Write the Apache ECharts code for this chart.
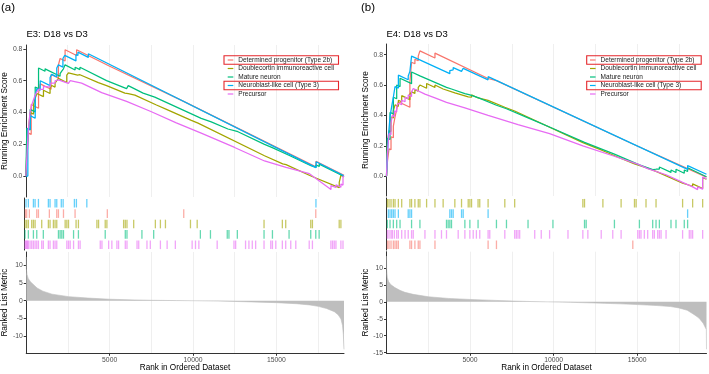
<!DOCTYPE html>
<html>
<head>
<meta charset="utf-8">
<script src="https://cdn.jsdelivr.net/npm/echarts@6/dist/echarts.min.js"></script>
<style>
  html, body { margin: 0; padding: 0; background: #fff; }
  #chart { width: 709px; height: 374px; }
</style>
</head>
<body>
<div id="chart"></div>
<script>
const setNames = ['Determined progenitor (Type 2b)', 'Doublecortin immunoreactive cell', 'Mature neuron', 'Neuroblast-like cell (Type 3)', 'Precursor'];
const setColors = ['#F8766D', '#A3A500', '#00BF7D', '#00B0F6', '#E76BF3'];
const panelLabels = ['(a)', '(b)'];
const panelTitles = ['E3: D18 vs D3', 'E4: D18 vs D3'];
const rankMax = [19050, 19150];
const rankTicks = [5000, 10000, 15000];
const esTicks = [0, 0.2, 0.4, 0.6, 0.8];
const metricTicksE3 = [-10, -5, 0, 5, 10];
const metricTicksE4 = [-15, -10, -5, 0, 5, 10];

// running enrichment score, E3 panel: [rank, score]
const esE3Determined = [[0,0],[80,0],[80,0.14],[160,0.136],[160,0.27],[320,0.262],[320,0.45],[760,0.427],[760,0.52],[860,0.515],[860,0.58],[1510,0.546],[1510,0.64],[1950,0.617],[1950,0.70],[2050,0.695],[2050,0.74],[2350,0.724],[2350,0.795],[3040,0.759],[3040,0.795],[4960,0.694],[4960,0.706],[9510,0.467],[9510,0.472],[17370,0.058],[17370,0.092],[19050,0.004]];
const esE3Doublecortin = [[0,0],[60,0],[60,0.16],[160,0.155],[160,0.30],[260,0.295],[260,0.40],[460,0.39],[460,0.45],[560,0.445],[560,0.49],[660,0.485],[660,0.52],[1055,0.50],[1055,0.54],[1450,0.52],[1450,0.555],[1550,0.55],[1550,0.57],[1750,0.56],[1750,0.585],[1850,0.58],[1850,0.60],[1950,0.595],[1950,0.615],[2450,0.589],[2450,0.635],[2550,0.63],[2550,0.65],[2650,0.645],[2650,0.66],[3100,0.636],[3100,0.645],[3240,0.638],[3240,0.646],[4340,0.588],[4340,0.595],[4835,0.569],[4835,0.58],[5930,0.522],[5930,0.53],[6130,0.519],[6130,0.53],[6530,0.509],[6530,0.515],[7820,0.447],[7820,0.452],[8420,0.42],[8420,0.428],[9910,0.35],[9910,0.354],[10310,0.333],[10310,0.337],[14290,0.128],[14290,0.134],[15380,0.077],[15380,0.083],[15580,0.072],[15580,0.078],[17070,0.0],[17070,0.008],[17170,0.003],[17170,0.011],[18765,-0.073],[18765,-0.04],[18865,-0.045],[18865,0.005],[19050,-0.005]];
const esE3Mature = [[0,0],[60,0],[60,0.30],[260,0.29],[260,0.42],[560,0.404],[560,0.56],[760,0.55],[760,0.68],[1150,0.66],[1150,0.675],[2050,0.628],[2050,0.645],[2150,0.64],[2150,0.66],[2250,0.655],[2250,0.675],[2350,0.67],[2350,0.70],[2950,0.668],[2950,0.685],[3240,0.67],[3240,0.685],[4835,0.601],[4835,0.613],[6030,0.55],[6030,0.562],[6130,0.557],[6130,0.569],[7020,0.522],[7020,0.534],[7720,0.497],[7720,0.509],[10500,0.363],[10500,0.373],[11100,0.341],[11100,0.349],[12100,0.296],[12100,0.303],[12200,0.298],[12200,0.305],[12700,0.279],[12700,0.283],[14290,0.199],[14290,0.203],[14790,0.177],[14790,0.181],[15780,0.129],[15780,0.133],[17070,0.065],[17070,0.07],[17370,0.054],[17370,0.07],[17570,0.06],[17570,0.075],[19050,-0.003]];
const esE3Neuroblast = [[0,0],[120,0],[120,0.30],[260,0.293],[260,0.38],[560,0.364],[560,0.50],[660,0.495],[660,0.55],[860,0.54],[860,0.60],[1450,0.569],[1450,0.62],[1550,0.615],[1550,0.64],[1850,0.624],[1850,0.68],[1950,0.675],[1950,0.70],[2220,0.686],[2220,0.74],[2330,0.734],[2330,0.76],[3000,0.725],[3000,0.765],[3120,0.759],[3120,0.78],[3740,0.747],[3740,0.77],[17380,0.053],[17380,0.09],[19050,0.002]];
const esE3Precursor = [[0,0],[60,0],[60,0.12],[110,0.118],[110,0.22],[160,0.218],[160,0.30],[210,0.298],[210,0.36],[260,0.357],[260,0.41],[360,0.405],[360,0.45],[460,0.445],[460,0.48],[560,0.475],[560,0.51],[660,0.505],[660,0.53],[760,0.525],[760,0.545],[860,0.54],[860,0.555],[1055,0.545],[1055,0.565],[1150,0.56],[1150,0.575],[1450,0.56],[1450,0.585],[1550,0.58],[1550,0.595],[1750,0.585],[1750,0.60],[1850,0.595],[1850,0.61],[1950,0.605],[1950,0.615],[2550,0.583],[2550,0.592],[2650,0.587],[2650,0.60],[2750,0.595],[2750,0.602],[3340,0.585],[4540,0.525],[6030,0.47],[7520,0.405],[9010,0.335],[10500,0.27],[12500,0.18],[14290,0.095],[15580,0.055],[16980,0.015],[18270,-0.085],[18270,-0.06],[18570,-0.072],[18570,-0.055],[18865,-0.07],[18865,-0.05],[18990,-0.057],[18990,0.0],[19050,-0.003]];

// running enrichment score, E4 panel
const esE4Determined = [[0,0],[60,0],[60,0.10],[150,0.095],[150,0.18],[270,0.174],[270,0.26],[410,0.253],[410,0.33],[510,0.325],[510,0.39],[610,0.385],[610,0.44],[710,0.435],[710,0.49],[1400,0.454],[1400,0.62],[1500,0.615],[1500,0.75],[1700,0.74],[1700,0.77],[1900,0.76],[1900,0.79],[2000,0.785],[2000,0.825],[2900,0.778],[2900,0.81],[6080,0.643],[6080,0.655],[6580,0.629],[6580,0.64],[14740,0.212],[14740,0.225],[19150,-0.006]];
const esE4Doublecortin = [[0,0],[50,0],[50,0.2],[150,0.195],[150,0.30],[270,0.294],[270,0.39],[410,0.383],[410,0.43],[510,0.425],[510,0.47],[710,0.46],[710,0.50],[910,0.49],[910,0.53],[1400,0.504],[1400,0.54],[1500,0.535],[1500,0.555],[1700,0.545],[1700,0.57],[1900,0.56],[1900,0.585],[2000,0.58],[2000,0.60],[2400,0.579],[2400,0.61],[2900,0.584],[2900,0.60],[3390,0.574],[3390,0.585],[4090,0.548],[4090,0.556],[4490,0.535],[4490,0.543],[4890,0.522],[4890,0.53],[5090,0.52],[5090,0.535],[5480,0.515],[5480,0.523],[5580,0.518],[5580,0.525],[6080,0.499],[6080,0.506],[7080,0.454],[7080,0.46],[7670,0.429],[7670,0.435],[11750,0.221],[11750,0.226],[11850,0.221],[11850,0.226],[12950,0.168],[12950,0.174],[14040,0.117],[14040,0.123],[14840,0.081],[14840,0.087],[14940,0.082],[14940,0.088],[15530,0.057],[15530,0.063],[16130,0.032],[16130,0.038],[17720,-0.045],[17720,-0.035],[18320,-0.066],[18320,-0.05],[18920,-0.081],[18920,-0.01],[19150,-0.02]];
const esE4Mature = [[0,0],[50,0],[50,0.25],[210,0.242],[210,0.42],[410,0.41],[410,0.52],[610,0.51],[610,0.60],[810,0.59],[810,0.645],[1500,0.609],[1500,0.686],[2000,0.66],[2000,0.668],[3590,0.585],[3590,0.59],[3890,0.574],[3890,0.585],[4690,0.543],[4690,0.551],[4990,0.535],[4990,0.543],[5480,0.517],[5480,0.525],[6580,0.467],[6580,0.475],[7180,0.444],[7180,0.452],[8470,0.384],[8470,0.392],[9960,0.314],[9960,0.322],[11850,0.223],[11850,0.231],[11950,0.226],[11950,0.234],[13640,0.145],[13640,0.153],[15135,0.075],[15135,0.086],[15930,0.044],[15930,0.056],[16130,0.046],[16130,0.058],[16330,0.047],[16330,0.061],[17025,0.025],[17025,0.041],[17325,0.025],[17325,0.046],[17820,0.02],[17820,0.041],[18020,0.031],[18020,0.056],[19150,-0.003]];
const esE4Neuroblast = [[0,0],[110,0],[110,0.26],[210,0.255],[210,0.39],[310,0.385],[310,0.46],[410,0.455],[410,0.52],[510,0.515],[510,0.59],[710,0.58],[710,0.665],[1300,0.635],[1300,0.66],[1400,0.655],[1400,0.69],[1500,0.685],[1500,0.79],[3790,0.675],[3790,0.695],[3890,0.69],[3890,0.705],[3990,0.70],[3990,0.715],[4490,0.69],[4490,0.70],[4590,0.695],[4590,0.71],[6080,0.634],[6080,0.655],[18020,0.045],[18020,0.07],[19150,0.013]];
const esE4Precursor = [[0,0],[50,0],[50,0.15],[150,0.145],[150,0.28],[270,0.274],[270,0.35],[350,0.346],[350,0.40],[470,0.394],[470,0.43],[610,0.423],[610,0.46],[710,0.455],[710,0.48],[910,0.47],[910,0.50],[1110,0.49],[1110,0.52],[1300,0.51],[1300,0.535],[1500,0.525],[1500,0.555],[1600,0.55],[1600,0.577],[2300,0.54],[2300,0.547],[2900,0.516],[2900,0.522],[3590,0.486],[4690,0.45],[6080,0.40],[7870,0.34],[9760,0.28],[11750,0.2],[13540,0.135],[15035,0.08],[15630,0.05],[16730,0.01],[17720,-0.04],[18320,-0.07],[18620,-0.088],[18620,-0.07],[18920,-0.085],[18920,-0.005],[19150,-0.017]];

// gene-set hit positions (rank)
const hitsE3Determined = [80, 160, 320, 760, 860, 1510, 1950, 2050, 2350, 3040, 4960, 9510, 17370];
const hitsE3Doublecortin = [60, 160, 260, 460, 560, 660, 1055, 1450, 1550, 1750, 1850, 1950, 2450, 2550, 2650, 3100, 3240, 4340, 4440, 4835, 4935, 5930, 6030, 6130, 6530, 7820, 8120, 8420, 9910, 10310, 14290, 15380, 15580, 17070, 17170, 18765, 18865];
const hitsE3Mature = [60, 260, 560, 760, 1150, 2050, 2150, 2250, 2350, 2950, 3240, 4835, 6030, 6130, 7020, 7720, 10500, 11100, 12100, 12200, 12700, 14290, 14790, 15780, 17070, 17370, 17570];
const hitsE3Neuroblast = [120, 260, 560, 660, 860, 1450, 1550, 1850, 1950, 2220, 2330, 3000, 3120, 3740, 17380];
const hitsE3Precursor = [60, 110, 160, 210, 260, 360, 460, 560, 660, 760, 860, 1055, 1150, 1450, 1550, 1750, 1850, 1950, 2550, 2650, 2750, 2950, 3240, 3340, 4540, 4640, 5040, 5230, 5530, 5630, 6030, 6130, 6730, 6830, 7320, 7520, 8120, 8520, 9010, 10010, 10210, 10410, 11500, 12500, 12600, 13190, 13390, 13590, 13790, 14290, 14690, 14790, 14990, 15380, 15580, 15880, 16180, 16980, 17170, 18270, 18370, 18470, 18570, 18865, 18990];
const hitsE4Determined = [60, 150, 270, 410, 510, 610, 710, 1400, 1500, 1700, 1900, 2000, 2900, 6080, 6580, 14740];
const hitsE4Doublecortin = [50, 150, 270, 410, 510, 710, 910, 1400, 1500, 1700, 1900, 2000, 2400, 2900, 3390, 4090, 4490, 4890, 4990, 5090, 5480, 5580, 6080, 7080, 7670, 11750, 11850, 12950, 14040, 14840, 14940, 15530, 16130, 17720, 18320, 18920];
const hitsE4Mature = [50, 210, 410, 610, 810, 1500, 2000, 3590, 3690, 3790, 3890, 4690, 4990, 5480, 6580, 7180, 8470, 9960, 11850, 11950, 13640, 15135, 15930, 16130, 16330, 17025, 17325, 17820, 18020];
const hitsE4Neuroblast = [110, 210, 310, 410, 510, 710, 1300, 1400, 1500, 3790, 3890, 3990, 4490, 4590, 6080, 18020];
const hitsE4Precursor = [50, 150, 270, 350, 470, 610, 710, 910, 1110, 1300, 1500, 1600, 2300, 2900, 3290, 3590, 4290, 4690, 4990, 5190, 5380, 5580, 6080, 6180, 7080, 7670, 7770, 7870, 7970, 8870, 9260, 9760, 10860, 11750, 12050, 12850, 13540, 14040, 15035, 15135, 15230, 15430, 15630, 15930, 16030, 16230, 16330, 16430, 16730, 17720, 18120, 18220, 18320, 18920];

// rug row order, top to bottom (index into setNames)
const rugRowsE3 = [3, 0, 1, 2, 4];
const rugRowsE4 = [1, 3, 2, 4, 0];

// ranked list metric: [rank, metric]
const metricE3 = [[1,12.4],[8,9.0],[50,7.4],[120,6.3],[250,5.4],[400,4.7],[650,3.6],[1000,2.7],[1550,1.85],[2550,1.15],[3700,0.75],[5000,0.42],[6500,0.22],[7500,0.12],[9000,0.04],[10000,0.0],[11500,-0.1],[13000,-0.27],[15000,-0.55],[16200,-0.85],[17000,-1.2],[17500,-1.6],[18000,-2.2],[18470,-3.1],[18700,-4.0],[18870,-5.2],[18960,-7],[19010,-9.5],[19050,-13.8]];
const metricE4 = [[1,13.5],[8,9.5],[50,7.2],[120,6.0],[250,5.1],[500,4.2],[800,3.4],[1100,2.8],[1600,2.2],[2500,1.5],[3700,1.0],[5000,0.7],[6500,0.42],[7600,0.22],[8700,0.08],[9600,0.0],[11000,-0.15],[12500,-0.35],[14000,-0.6],[15000,-0.8],[16200,-1.1],[17000,-1.4],[17500,-1.8],[18000,-2.5],[18420,-3.8],[18700,-4.8],[18950,-6.3],[19140,-8.2],[19150,-14.0]];

const panels = [
  {
    es: [esE3Determined, esE3Doublecortin, esE3Mature, esE3Neuroblast, esE3Precursor],
    hits: [hitsE3Determined, hitsE3Doublecortin, hitsE3Mature, hitsE3Neuroblast, hitsE3Precursor],
    rugRows: rugRowsE3, metric: metricE3, metricTicks: metricTicksE3,
    left: 24, esTop: 45, esMin: -0.132, esMax: 0.825,
    metricTop: 252, metricH: 101.3, metricMin: -14.9, metricMax: 13.8,
    nameGap: 12.5, legendLeft: 227.7, boxLeft: 224, labelLeft: 1, titleLeft: 26.5,
  },
  {
    es: [esE4Determined, esE4Doublecortin, esE4Mature, esE4Neuroblast, esE4Precursor],
    hits: [hitsE4Determined, hitsE4Doublecortin, hitsE4Mature, hitsE4Neuroblast, hitsE4Precursor],
    rugRows: rugRowsE4, metric: metricE4, metricTicks: metricTicksE4,
    left: 386.5, esTop: 44, esMin: -0.13, esMax: 0.87,
    metricTop: 251.7, metricH: 101.6, metricMin: -15.2, metricMax: 14.8,
    nameGap: 15, legendLeft: 590, boxLeft: 586.7, labelLeft: 361, titleLeft: 386.5,
  },
];

const axisColor = '#333333';
const tickLabel = { fontSize: 6.8, color: '#4D4D4D' };
const axisName = { fontSize: 8.2, color: '#000000' };

const grid = [];
const xAxis = [];
const yAxis = [];
const series = [];
const legend = [];
const title = [];
const graphic = [];

panels.forEach((P, p) => {
  const base = p * 3;
  grid.push({ left: P.left, top: P.esTop, width: 320, height: 152 });
  grid.push({ left: P.left, top: 198, width: 320, height: 52 });
  grid.push({ left: P.left, top: P.metricTop, width: 320, height: P.metricH });

  // gridline axes (one per grid)
  for (let g = 0; g < 3; g++) {
    xAxis.push({
      type: 'value', gridIndex: base + g, min: 0, max: rankMax[p], interval: 2500,
      position: g === 2 ? 'top' : 'bottom',
      axisLine: { show: false }, axisTick: { show: false }, axisLabel: { show: false },
      splitLine: { show: g !== 1, showMaxLine: false, lineStyle: { color: '#EBEBEB', width: 0.8 } },
    });
  }

  yAxis.push({
    type: 'value', gridIndex: base, min: P.esMin, max: P.esMax,
    axisLine: { show: true, lineStyle: { color: axisColor, width: 1 } },
    axisTick: { show: true, length: 2.5, customValues: esTicks, lineStyle: { color: axisColor } },
    axisLabel: { ...tickLabel, margin: 3.5, customValues: esTicks, formatter: (v) => v.toFixed(1) },
    splitLine: { show: false },
    name: 'Running Enrichment Score', nameLocation: 'middle', nameRotate: 90,
    nameGap: P.nameGap, nameTextStyle: axisName,
  });
  yAxis.push({
    type: 'value', gridIndex: base + 1, min: 0, max: 5, inverse: true,
    axisLine: { show: true, lineStyle: { color: axisColor, width: 1 } },
    axisTick: { show: false }, axisLabel: { show: false }, splitLine: { show: false },
  });
  yAxis.push({
    type: 'value', gridIndex: base + 2, min: P.metricMin, max: P.metricMax,
    axisLine: { show: true, lineStyle: { color: axisColor, width: 1 } },
    axisTick: { show: true, length: 2.5, customValues: P.metricTicks, lineStyle: { color: axisColor } },
    axisLabel: { ...tickLabel, margin: 3.5, customValues: P.metricTicks, formatter: (v) => String(v) },
    splitLine: { show: false },
    name: 'Ranked List Metric', nameLocation: 'middle', nameRotate: 90,
    nameGap: P.nameGap, nameTextStyle: axisName,
  });

  P.es.forEach((es, k) => {
    series.push({
      type: 'line', name: setNames[k], xAxisIndex: base, yAxisIndex: base,
      data: es, symbol: 'none', z: 3 + k,
      lineStyle: { color: setColors[k], width: 1.25 }, itemStyle: { color: setColors[k] },
    });
  });
  P.rugRows.forEach((k, row) => {
    series.push({
      type: 'scatter', name: 'hits ' + setNames[k], xAxisIndex: base + 1, yAxisIndex: base + 1,
      data: P.hits[k].map((h) => [h, row + 0.5]),
      symbol: 'rect', symbolSize: [1.3, 8.6], silent: true,
      itemStyle: { color: setColors[k], opacity: 0.6 },
    });
  });
  series.push({
    type: 'line', name: 'metric', xAxisIndex: base + 2, yAxisIndex: base + 2,
    data: P.metric, symbol: 'none', silent: true,
    lineStyle: { color: '#BEBEBE', width: 0.6 }, areaStyle: { color: '#BEBEBE', opacity: 1 },
  });

  legend.push({
    data: setNames, orient: 'vertical', left: P.legendLeft, top: 55.75, padding: 0,
    itemWidth: 5.6, itemHeight: 1.2, itemGap: 0, icon: 'rect', selectedMode: false,
    textStyle: { fontSize: 6.5, lineHeight: 8.5, color: '#1A1A1A' },
  });

  title.push({ text: panelLabels[p], left: P.labelLeft, top: 2, padding: 0,
    textStyle: { fontSize: 11.5, fontWeight: 'normal', color: '#000' } });
  title.push({ text: panelTitles[p], left: P.titleLeft, top: 29.5, padding: 0,
    textStyle: { fontSize: 9.5, fontWeight: 'normal', color: '#000' } });

  // red highlight boxes around two legend entries
  [55.8, 81.3].forEach((y) => {
    graphic.push({ type: 'rect', shape: { x: P.boxLeft, y, width: 114.5, height: 8.4 },
      style: { fill: 'none', stroke: '#E5262B', lineWidth: 1.1 }, z: 100 });
  });
});

// visible rank axes under the metric panels
panels.forEach((P, p) => {
  xAxis.push({
    type: 'value', gridIndex: p * 3 + 2, min: 0, max: rankMax[p], position: 'bottom',
    axisLine: { show: true, onZero: false, lineStyle: { color: axisColor, width: 1 } },
    axisTick: { show: true, length: 2.5, customValues: rankTicks, lineStyle: { color: axisColor } },
    axisLabel: { ...tickLabel, margin: 3, customValues: rankTicks, formatter: (v) => String(v) },
    splitLine: { show: false },
    name: 'Rank in Ordered Dataset', nameLocation: 'middle', nameGap: 10.5, nameTextStyle: axisName,
  });
});

const chart = echarts.init(document.getElementById('chart'));
chart.setOption({
  animation: false,
  backgroundColor: '#ffffff',
  textStyle: { fontFamily: 'Liberation Sans, Arial, sans-serif' },
  title, legend, grid, xAxis, yAxis, series, graphic,
});
</script>
</body>
</html>
